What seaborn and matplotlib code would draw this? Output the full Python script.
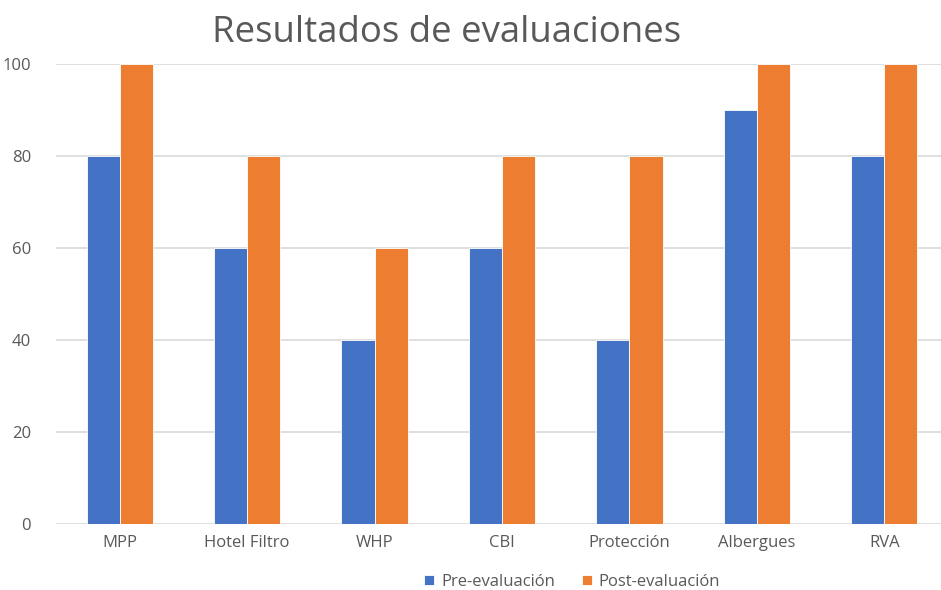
import pandas as pd
import seaborn as sns
import matplotlib.pyplot as plt

categorias = ["MPP", "Hotel Filtro", "WHP", "CBI", "Protección", "Albergues", "RVA"]
pre = [80, 60, 40, 60, 40, 90, 80]
post = [100, 80, 60, 80, 80, 100, 100]
series = ["Pre-evaluación", "Post-evaluación"]

df = pd.DataFrame({
    "categoria": categorias * 2,
    "valor": pre + post,
    "serie": [series[0]] * len(pre) + [series[1]] * len(post),
})

sns.set_style("white")
plt.rcParams["font.family"] = ["Open Sans", "DejaVu Sans"]

fig = plt.figure(figsize=(9.41, 5.90), dpi=100)
ax = fig.add_axes([56 / 941, 66 / 590, 892 / 941, 460 / 590])

sns.barplot(data=df, x="categoria", y="valor", hue="serie", order=categorias,
            palette=["#4472C4", "#ED7D31"], saturation=1, width=0.52, gap=0,
            edgecolor="white", linewidth=0.6, ax=ax, legend=True)

ax.set_xlim(-0.5, 6.5)
ax.set_ylim(0, 100)
ax.set_yticks(range(0, 101, 20))
ax.yaxis.grid(True, color="#D9D9D9", linewidth=1.2)
ax.set_axisbelow(True)
for s in ax.spines.values():
    s.set_visible(False)
ax.set_xlabel("")
ax.set_ylabel("")
ax.tick_params(axis="both", length=0, labelsize=12, colors="#595959", pad=8)
ax.tick_params(axis="y", pad=18)

fig.text(447 / 941, 1 - 33 / 590, "Resultados de evaluaciones", ha="center", va="center",
         fontsize=26.4, color="#595959")

ax.legend(loc="center", bbox_to_anchor=(572 / 941, 1 - 582 / 590), bbox_transform=fig.transFigure,
          ncol=2, frameon=False, fontsize=12, labelcolor="#595959",
          handlelength=0.6, handleheight=0.6, handletextpad=0.4, columnspacing=1.6)

fig.savefig("out.png", dpi=100)
